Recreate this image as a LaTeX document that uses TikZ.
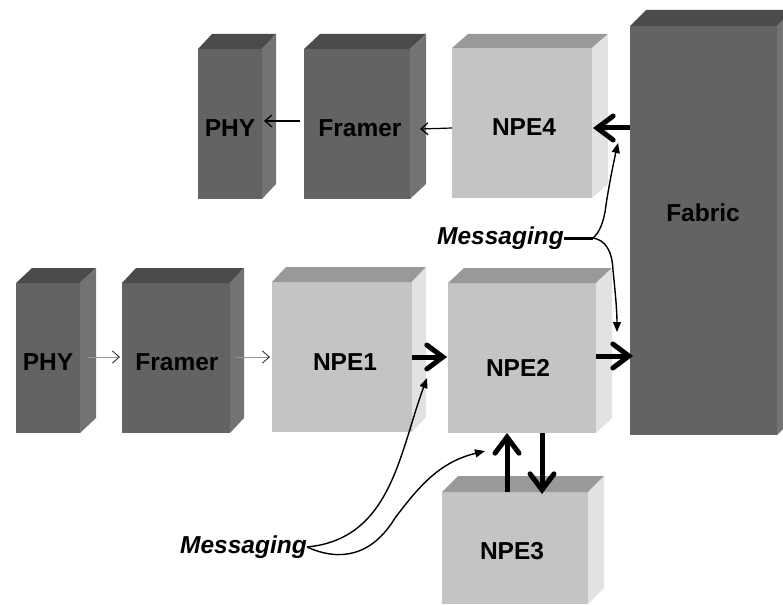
\documentclass[tikz,border=0pt]{standalone}
\usepackage{fontspec}
\setmainfont{Liberation Sans}
\usetikzlibrary{arrows.meta}
\definecolor{dkF}{HTML}{636363}
\definecolor{dkT}{HTML}{4B4B4B}
\definecolor{dkS}{HTML}{737373}
\definecolor{ltF}{HTML}{C4C4C4}
\definecolor{ltT}{HTML}{999999}
\definecolor{ltS}{HTML}{E2E2E2}
\newcommand\cubebox[8]{%
  \node[face, fill=#8F, minimum width=#4, minimum height=#5, anchor=north west] (#1) at (#2,#3) {};
  \fill[#8T] (#1.north west) -- ++(#6,-#7) -- ([shift={(#6,-#7)}]#1.north east) -- (#1.north east) -- cycle;
  \fill[#8S] (#1.north east) -- ++(#6,-#7) -- ([shift={(#6,-#7)}]#1.south east) -- (#1.south east) -- cycle;
}
\begin{document}
\begin{tikzpicture}[x=1pt,y=-1pt,
  face/.style={inner sep=0pt, outer sep=0pt, draw=none, rectangle},
  lbl/.style={font=\fontsize{24.5}{28}\selectfont\bfseries, inner sep=0pt},
  msgl/.style={font=\fontsize{24.5}{28}\selectfont\bfseries\itshape, inner sep=0pt},
  thinarr/.style={line width=1.2pt, -{Straight Barb[length=7pt,width=12pt]}},
  grayarr/.style={line width=0.8pt, draw=black!40, -{Straight Barb[length=7pt,width=12pt,color=black!85]}},
  thickarr/.style={line width=5pt, -{Straight Barb[length=16pt,width=24pt,line cap=round]}},
  msgarr/.style={line width=1.4pt, -{Triangle[length=10pt,width=8pt]}},
]
\useasboundingbox (0,0) rectangle (783,604);
\clip (0,0) rectangle (783,604);

% top row
\cubebox{phyT}{198}{49}{64}{150}{14}{15}{dk}
\cubebox{framerT}{304}{49}{106}{150}{16}{15}{dk}
\cubebox{npe4}{452}{48}{140}{150}{16}{14}{lt}
\cubebox{fabric}{630}{26}{147}{409}{16}{16}{dk}
% bottom row
\cubebox{phyB}{16}{283}{64}{150}{16}{15}{dk}
\cubebox{framerB}{122}{283}{108}{150}{14}{15}{dk}
\cubebox{npe1}{272}{282}{140}{150}{14}{15}{lt}
\cubebox{npe2}{448}{283}{148}{150}{16}{15}{lt}
\cubebox{npe3}{442}{492}{146}{112}{16}{16}{lt}

% labels
\node[lbl] (lphyT) at (230,128) {PHY};
\node[lbl] (lframerT) at (360,128) {Framer};
\node[lbl] (lnpe4) at (524,127) {NPE4};
\node[lbl] (lfabric) at (703,213) {Fabric};
\node[lbl] (lphyB) at (48,362) {PHY};
\node[lbl] (lframerB) at (177,362) {Framer};
\node[lbl] (lnpe1) at (345,362) {NPE1};
\node[lbl] (lnpe2) at (518,368) {NPE2};
\node[lbl] (lnpe3) at (512,551) {NPE3};
\node[msgl, anchor=east] (msgT) at (564,238) {Messaging};
\node[msgl, anchor=east] (msgB) at (307,547) {Messaging};

% thin arrows
\draw[thinarr] ([shift={(-4,-3)}]framerT.west) -- ([shift={(2,-3)}]phyT.east);
\draw[thinarr] ([shift={(0,5)}]npe4.west) -- ([shift={(10,5)}]framerT.east);
\draw[grayarr] ([shift={(8,-1)}]phyB.east) -- ([shift={(-2,-1)}]framerB.west);
\draw[grayarr] ([shift={(6,-1)}]framerB.east) -- ([shift={(-2,0)}]npe1.west);

% thick arrows
\draw[thickarr] ([shift={(38,5)}]npe4.east) -- ([shift={(1,5)}]npe4.east);
\draw[thickarr] (npe1.east) -- ([shift={(-1,-1)}]npe2.west);
\draw[thickarr] ([shift={(0,-2)}]npe2.east) -- ([shift={(37,-2)}]npe2.east);
\draw[thickarr] ([shift={(-8,0)}]npe3.north) -- ([shift={(-15,0)}]npe2.south);
\draw[thickarr] ([shift={(20,0)}]npe2.south) -- ([shift={(27,2)}]npe3.north);

% messaging
\coordinate (mj) at (593,238);
\coordinate (tA) at (618,143);
\coordinate (tB) at (617,332);
\coordinate (tC) at (427,378);
\coordinate (tD) at (485,451);
\draw[line width=3pt] (msgT.east) -- (mj);
\draw[msgarr] (mj) .. controls (600,232) and (603,222) .. (605,212) .. controls (608,190) and (613,165) .. (tA);
\draw[msgarr] (mj) .. controls (605,240) and (612,250) .. (613,270) .. controls (615,290) and (617,310) .. (tB);
\draw[msgarr] (msgB.east) .. controls (391,539) and (399,454) .. (tC);
\draw[msgarr] (msgB.east) .. controls (340,562) and (372,556) .. (395,518) .. controls (420,485) and (440,462) .. (tD);
\end{tikzpicture}
\end{document}
